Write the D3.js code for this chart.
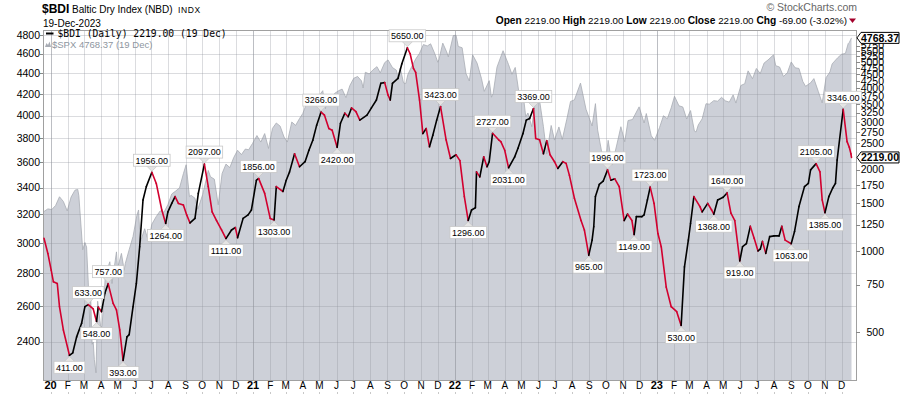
<!DOCTYPE html>
<html><head><meta charset="utf-8">
<script src="https://cdn.jsdelivr.net/npm/d3@7"></script>
<style>
html,body{margin:0;padding:0;background:#fff;}
svg{display:block;font-family:Arial,"Liberation Sans",sans-serif;}
</style></head><body>
<svg id="chart" width="900" height="396"></svg>
<script>
// ---------- DATA ----------
const bdi = [
["2019-12-20",1114],["2019-12-27",979],["2020-01-02",849],["2020-01-06",769],["2020-01-13",758],["2020-01-17",622],
["2020-01-24",510],["2020-02-04",411],["2020-02-10",420],["2020-02-17",481],["2020-02-26",540],["2020-03-03",622],
["2020-03-09",633],["2020-03-18",610],["2020-03-24",548],["2020-03-27",620],["2020-04-02",596],["2020-04-08",697],
["2020-04-14",757],["2020-04-23",640],["2020-04-29",605],["2020-05-05",510],["2020-05-11",393],["2020-05-18",481],
["2020-05-22",490],["2020-05-29",622],["2020-06-04",758],["2020-06-10",1037],["2020-06-16",1545],["2020-06-22",1731],
["2020-07-02",1956],["2020-07-10",1778],["2020-07-20",1418],["2020-07-27",1264],["2020-07-31",1395],["2020-08-07",1500],
["2020-08-13",1590],["2020-08-19",1500],["2020-08-28",1480],["2020-09-03",1360],["2020-09-09",1270],["2020-09-18",1320],
["2020-09-24",1634],["2020-10-05",2097],["2020-10-12",1731],["2020-10-19",1395],["2020-10-27",1296],["2020-11-05",1196],
["2020-11-13",1111],["2020-11-23",1196],["2020-11-30",1221],["2020-12-04",1120],["2020-12-14",1320],["2020-12-23",1360],
["2020-12-29",1418],["2021-01-07",1827],["2021-01-11",1856],["2021-01-22",1634],["2021-02-01",1320],["2021-02-08",1303],
["2021-02-12",1731],["2021-02-24",1660],["2021-03-02",1827],["2021-03-08",1962],["2021-03-17",2290],["2021-03-26",2050],
["2021-04-05",2140],["2021-04-12",2360],["2021-04-19",2570],["2021-04-26",2922],["2021-05-04",3266],["2021-05-10",3185],
["2021-05-18",2840],["2021-05-24",2800],["2021-06-02",2420],["2021-06-08",2970],["2021-06-16",3236],["2021-06-22",3140],
["2021-06-28",3384],["2021-07-06",3277],["2021-07-13",3050],["2021-07-26",3185],["2021-08-03",3384],["2021-08-12",3620],
["2021-08-20",4175],["2021-08-27",4200],["2021-09-02",3780],["2021-09-06",3620],["2021-09-10",4175],["2021-09-20",4350],
["2021-09-27",4930],["2021-10-07",5650],["2021-10-12",5370],["2021-10-18",4740],["2021-10-22",4580],["2021-10-29",3620],
["2021-11-04",2720],["2021-11-10",2840],["2021-11-16",2430],["2021-11-22",2680],["2021-11-29",3050],["2021-12-06",3423],
["2021-12-16",2580],["2021-12-24",2200],["2022-01-03",2270],["2022-01-10",2160],["2022-01-18",1590],["2022-01-25",1296],
["2022-01-31",1418],["2022-02-07",1445],["2022-02-09",1962],["2022-02-15",1880],["2022-02-22",2230],["2022-02-28",2050],
["2022-03-04",2140],["2022-03-10",2727],["2022-03-21",2580],["2022-03-25",2540],["2022-04-01",2360],["2022-04-08",2031],
["2022-04-19",2230],["2022-04-25",2400],["2022-05-04",2720],["2022-05-10",3050],["2022-05-16",3090],["2022-05-23",3369],
["2022-05-27",2610],["2022-06-03",2580],["2022-06-10",2290],["2022-06-16",2560],["2022-06-22",2270],["2022-06-30",2140],
["2022-07-06",2020],["2022-07-15",2140],["2022-07-21",2110],["2022-07-27",1905],["2022-08-05",1567],["2022-08-17",1296],
["2022-08-23",1196],["2022-08-31",965],["2022-09-06",1097],["2022-09-09",1230],["2022-09-12",1590],["2022-09-19",1763],
["2022-09-26",1812],["2022-10-04",1996],["2022-10-10",1827],["2022-10-17",1850],["2022-10-25",1731],["2022-11-03",1296],
["2022-11-09",1370],["2022-11-17",1296],["2022-11-21",1149],["2022-11-25",1340],["2022-12-05",1340],["2022-12-09",1360],
["2022-12-15",1545],["2022-12-20",1723],["2022-12-27",1500],["2023-01-03",1160],["2023-01-09",1037],["2023-01-18",735],
["2023-01-27",622],["2023-02-06",596],["2023-02-14",530],["2023-02-20",873],["2023-02-27",1097],["2023-03-03",1264],
["2023-03-09",1590],["2023-03-20",1460],["2023-03-24",1395],["2023-04-03",1500],["2023-04-10",1418],["2023-04-14",1368],
["2023-04-21",1545],["2023-05-01",1580],["2023-05-08",1640],["2023-05-15",1380],["2023-05-22",1296],["2023-05-31",919],
["2023-06-05",1037],["2023-06-12",1065],["2023-06-19",1234],["2023-06-26",1114],["2023-07-03",1000],["2023-07-07",1015],
["2023-07-11",1085],["2023-07-17",980],["2023-07-24",1130],["2023-08-01",1137],["2023-08-10",1137],["2023-08-15",1234],
["2023-08-21",1097],["2023-09-01",1063],["2023-09-07",1180],["2023-09-15",1460],["2023-09-25",1731],["2023-10-02",1778],
["2023-10-06",1996],["2023-10-16",2105],["2023-10-23",1962],["2023-10-27",1545],["2023-11-01",1385],["2023-11-08",1590],
["2023-11-15",1710],["2023-11-20",1778],["2023-11-23",2170],["2023-12-04",3346],["2023-12-11",2540],["2023-12-15",2420],
["2023-12-18",2288],["2023-12-19",2219]
];

const spx = [
["2019-12-20",3221],["2019-12-27",3240],["2020-01-03",3235],["2020-01-10",3265],["2020-01-17",3330],["2020-01-24",3295],
["2020-01-31",3225],["2020-02-07",3328],["2020-02-14",3380],["2020-02-19",3386],["2020-02-21",3338],["2020-02-28",2954],
["2020-03-03",3003],["2020-03-06",2972],["2020-03-09",2746],["2020-03-12",2480],["2020-03-13",2711],["2020-03-16",2386],
["2020-03-18",2398],["2020-03-20",2305],["2020-03-23",2237],["2020-03-26",2630],["2020-04-01",2470],["2020-04-03",2489],
["2020-04-09",2790],["2020-04-17",2875],["2020-04-21",2737],["2020-04-29",2940],["2020-05-01",2831],["2020-05-08",2930],
["2020-05-13",2820],["2020-05-15",2864],["2020-05-22",2955],["2020-05-29",3044],["2020-06-05",3194],["2020-06-08",3232],
["2020-06-11",3002],["2020-06-19",3098],["2020-06-26",3009],["2020-07-02",3130],["2020-07-10",3185],["2020-07-17",3225],
["2020-07-24",3216],["2020-07-31",3271],["2020-08-07",3351],["2020-08-14",3373],["2020-08-21",3397],["2020-08-28",3508],
["2020-09-02",3580],["2020-09-08",3331],["2020-09-11",3341],["2020-09-18",3319],["2020-09-23",3237],["2020-10-02",3348],
["2020-10-12",3534],["2020-10-16",3484],["2020-10-23",3465],["2020-10-30",3270],["2020-11-06",3509],["2020-11-13",3585],
["2020-11-20",3557],["2020-11-27",3638],["2020-12-04",3699],["2020-12-11",3663],["2020-12-18",3709],["2020-12-24",3703],
["2020-12-31",3756],["2021-01-08",3824],["2021-01-15",3768],["2021-01-22",3841],["2021-01-29",3714],["2021-02-05",3886],
["2021-02-12",3934],["2021-02-19",3906],["2021-02-26",3811],["2021-03-04",3768],["2021-03-12",3943],["2021-03-19",3913],
["2021-03-26",3974],["2021-04-01",4020],["2021-04-09",4128],["2021-04-16",4185],["2021-04-23",4180],["2021-04-30",4181],
["2021-05-07",4232],["2021-05-12",4063],["2021-05-14",4173],["2021-05-21",4156],["2021-05-28",4204],["2021-06-04",4230],
["2021-06-11",4247],["2021-06-18",4166],["2021-06-25",4281],["2021-07-02",4352],["2021-07-09",4370],["2021-07-16",4327],
["2021-07-19",4258],["2021-07-23",4412],["2021-07-30",4395],["2021-08-06",4437],["2021-08-13",4468],["2021-08-19",4406],
["2021-08-27",4509],["2021-09-02",4537],["2021-09-10",4459],["2021-09-17",4433],["2021-09-20",4358],["2021-09-24",4455],
["2021-09-30",4308],["2021-10-04",4300],["2021-10-08",4391],["2021-10-15",4471],["2021-10-22",4545],["2021-10-29",4605],
["2021-11-05",4697],["2021-11-12",4682],["2021-11-18",4705],["2021-11-26",4595],["2021-12-01",4513],["2021-12-03",4538],
["2021-12-10",4712],["2021-12-17",4620],["2021-12-20",4568],["2021-12-29",4793],["2022-01-03",4797],["2022-01-07",4677],
["2022-01-14",4663],["2022-01-21",4398],["2022-01-27",4326],["2022-02-02",4589],["2022-02-10",4504],["2022-02-18",4349],
["2022-02-23",4225],["2022-03-04",4329],["2022-03-08",4170],["2022-03-11",4204],["2022-03-18",4463],["2022-03-29",4632],
["2022-04-08",4488],["2022-04-14",4392],["2022-04-20",4460],["2022-04-29",4132],["2022-05-06",4123],["2022-05-09",3991],
["2022-05-13",4024],["2022-05-20",3901],["2022-05-27",4158],["2022-06-02",4176],["2022-06-10",3901],["2022-06-16",3667],
["2022-06-24",3912],["2022-06-30",3785],["2022-07-08",3899],["2022-07-14",3790],["2022-07-22",3962],["2022-07-29",4130],
["2022-08-05",4145],["2022-08-16",4305],["2022-08-26",4058],["2022-09-06",3908],["2022-09-12",4110],["2022-09-16",3873],
["2022-09-23",3693],["2022-09-30",3586],["2022-10-05",3783],["2022-10-12",3577],["2022-10-21",3752],["2022-10-28",3901],
["2022-11-04",3771],["2022-11-10",3956],["2022-11-18",3965],["2022-11-30",4080],["2022-12-09",3934],["2022-12-13",4019],
["2022-12-22",3822],["2022-12-28",3783],["2023-01-06",3895],["2023-01-13",3999],["2023-01-20",3972],["2023-01-27",4071],
["2023-02-02",4179],["2023-02-10",4090],["2023-02-17",4079],["2023-02-24",3970],["2023-03-03",4046],["2023-03-10",3862],
["2023-03-13",3855],["2023-03-17",3917],["2023-03-24",3971],["2023-03-31",4109],["2023-04-06",4105],["2023-04-14",4138],
["2023-04-21",4133],["2023-04-28",4169],["2023-05-05",4136],["2023-05-12",4124],["2023-05-19",4192],["2023-05-24",4115],
["2023-06-02",4282],["2023-06-09",4299],["2023-06-15",4426],["2023-06-23",4348],["2023-06-30",4450],["2023-07-07",4399],
["2023-07-14",4505],["2023-07-21",4536],["2023-07-31",4589],["2023-08-04",4478],["2023-08-11",4464],["2023-08-18",4370],
["2023-08-25",4406],["2023-09-01",4516],["2023-09-08",4457],["2023-09-15",4450],["2023-09-22",4320],["2023-09-27",4274],
["2023-10-06",4308],["2023-10-12",4349],["2023-10-20",4224],["2023-10-27",4117],["2023-11-03",4358],["2023-11-10",4415],
["2023-11-14",4496],["2023-11-24",4559],["2023-12-01",4595],["2023-12-08",4604],["2023-12-13",4707],["2023-12-15",4719],
["2023-12-19",4768.37]
];

const labelDates = ["2020-02-04","2020-03-09","2020-03-24","2020-04-14","2020-05-11","2020-07-02","2020-07-27","2020-10-05",
"2020-11-13","2021-01-11","2021-02-08","2021-05-04","2021-06-02","2021-10-07","2021-12-06","2022-01-25","2022-03-10",
"2022-04-08","2022-05-23","2022-08-31","2022-10-04","2022-11-21","2022-12-20","2023-02-14","2023-04-14","2023-05-08",
"2023-05-31","2023-09-01","2023-10-16","2023-11-01","2023-12-04"];

const leftTicks = [2400,2600,2800,3000,3200,3400,3600,3800,4000,4200,4400,4600,4800];
const rightTicks = [500,750,1000,1250,1500,1750,2000,2500,2750,3000,3250,3500,3750,4000,4250,4500,4750,5000,5250,5500,5750];
const monthLetters = ["J","F","M","A","M","J","J","A","S","O","N","D"];
const headerItems = [["Open","2219.00"],["High","2219.00"],["Low","2219.00"],["Close","2219.00"],["Chg","-69.00 (-3.02%)"]];

// ---------- DRAW ----------
const parse = d3.timeParse("%Y-%m-%d");
const B = bdi.map(d => ({date: parse(d[0]), v: d[1]}));
const S = spx.map(d => ({date: parse(d[0]), v: d[1]}));
const L = 43, R = 856, T = 30, BOT = 380;
const svg = d3.select("#chart");
const x = d3.scaleTime().domain([parse("2019-12-20"), parse("2023-12-19")]).range([44, 851.5]);
const yL = d3.scaleLog().domain([2201, 4854]).range([BOT, T]);
const yR = d3.scaleLog().domain([333, 6575]).range([BOT, T]);

svg.append("rect").attr("width", 900).attr("height", 396).attr("fill", "#fff");

// SPX area
svg.append("path").datum(S)
  .attr("d", d3.area().x(d => x(d.date)).y0(BOT).y1(d => yL(d.v)))
  .attr("fill", "#cdd0d8");
svg.append("path").datum(S)
  .attr("d", d3.line().x(d => x(d.date)).y(d => yL(d.v)))
  .attr("fill", "none").attr("stroke", "#a8acb4").attr("stroke-width", 0.8);

// gridlines
const months = d3.timeMonth.range(parse("2020-01-01"), parse("2023-12-20"));
const grid = svg.append("g");
grid.selectAll("line.v").data(months).join("line")
  .attr("x1", d => Math.round(x(d)) + 0.5).attr("x2", d => Math.round(x(d)) + 0.5)
  .attr("y1", T).attr("y2", BOT)
  .attr("stroke", "#8f939b").attr("stroke-opacity", d => d.getMonth() === 0 ? 0.6 : 0.32);
grid.selectAll("line.h").data(leftTicks).join("line")
  .attr("x1", L).attr("x2", R)
  .attr("y1", d => Math.round(yL(d)) + 0.5).attr("y2", d => Math.round(yL(d)) + 0.5)
  .attr("stroke", "#8f939b").attr("stroke-opacity", 0.32);

// frame
svg.append("rect").attr("x", L + 0.5).attr("y", T + 0.5).attr("width", R - L).attr("height", BOT - T)
  .attr("fill", "none").attr("stroke", "#a0a0a0");

// left axis
const la = svg.append("g");
la.selectAll("line").data(leftTicks).join("line")
  .attr("x1", 40).attr("x2", L).attr("y1", d => Math.round(yL(d)) + 0.5).attr("y2", d => Math.round(yL(d)) + 0.5)
  .attr("stroke", "#888");
la.selectAll("text").data(leftTicks).join("text")
  .attr("x", 40).attr("y", d => yL(d)).attr("dy", "0.35em").attr("text-anchor", "end")
  .attr("font-size", 10.5).attr("fill", "#000").text(d => d);

// right axis
const ra = svg.append("g");
ra.selectAll("line").data(rightTicks).join("line")
  .attr("x1", R).attr("x2", R + 4).attr("y1", d => Math.round(yR(d)) + 0.5).attr("y2", d => Math.round(yR(d)) + 0.5)
  .attr("stroke", "#888");
ra.selectAll("text").data(rightTicks).join("text")
  .attr("x", 884).attr("y", d => yR(d)).attr("dy", "0.35em").attr("text-anchor", "end")
  .attr("font-size", 10.5).attr("fill", "#000").text(d => d);

// x axis labels
const xa = svg.append("g");
xa.selectAll("text").data(months).join("text")
  .attr("x", d => x(d)).attr("y", 389).attr("text-anchor", "middle")
  .attr("font-size", d => d.getMonth() === 0 ? 11 : 10)
  .attr("font-weight", d => d.getMonth() === 0 ? "bold" : "normal")
  .text(d => d.getMonth() === 0 ? d3.timeFormat("%y")(d) : monthLetters[d.getMonth()]);
xa.selectAll("line").data(months).join("line")
  .attr("x1", d => Math.round(x(d)) + 0.5).attr("x2", d => Math.round(x(d)) + 0.5)
  .attr("y1", 392).attr("y2", 394).attr("stroke", "#c8c8c8");

// BDI line, coloured by direction
const segs = B.slice(1).map((d, i) => ({a: B[i], b: d}));
svg.append("g").selectAll("line").data(segs).join("line")
  .attr("x1", d => x(d.a.date)).attr("y1", d => yR(d.a.v))
  .attr("x2", d => x(d.b.date)).attr("y2", d => yR(d.b.v))
  .attr("stroke", d => d.b.v < d.a.v ? "#d2002f" : "#000")
  .attr("stroke-width", 1.6).attr("stroke-linecap", "round");

// annotations
const ann = svg.append("g");
labelDates.forEach(ds => {
  const i = bdi.findIndex(d => d[0] === ds);
  const p = B[i];
  const prev = B[Math.max(0, i - 1)];
  const high = p.v >= prev.v;
  const px = x(p.date), py = yR(p.v);
  const g = ann.append("g");
  const ey = high ? py - 6 : py + 6;
  g.append("path").attr("d", `M${px},${ey-5}L${px+5},${ey}L${px},${ey+5}L${px-5},${ey}Z`)
    .attr("fill", "#e4e4e4").attr("stroke", "#bdbdbd").attr("stroke-width", 0.6);
  const t = g.append("text").attr("x", px).attr("text-anchor", "middle").attr("font-size", 9)
    .attr("fill", "#000").text(p.v.toFixed(2));
  const w = t.node().getComputedTextLength() + 4;
  const by = high ? py - 6 - 12 : py + 6;
  g.insert("rect", "text").attr("x", px - w / 2).attr("y", by).attr("width", w).attr("height", 12)
    .attr("fill", "#fff").attr("stroke", "#c8c8c8").attr("stroke-width", 0.8);
  t.attr("y", by + 9.3);
});

// header
svg.append("text").attr("x", 42).attr("y", 12.5).attr("font-size", 12).attr("font-weight", "bold").text("$BDI");
svg.append("text").attr("x", 72).attr("y", 12.5).attr("font-size", 10).text("Baltic Dry Index (NBD)");
svg.append("text").attr("x", 178).attr("y", 12.5).attr("font-size", 8.5).attr("letter-spacing", 0.6).text("INDX");
svg.append("text").attr("x", 43).attr("y", 26.5).attr("font-size", 10).text("19-Dec-2023");
svg.append("text").attr("x", 857).attr("y", 11).attr("text-anchor", "end").attr("font-size", 10.5)
  .attr("fill", "#666").text("\u00a9 StockCharts.com");
const ht = svg.append("text").attr("x", 847).attr("y", 24).attr("text-anchor", "end").attr("font-size", 9.8);
headerItems.forEach((h, i) => {
  ht.append("tspan").attr("font-weight", "bold").attr("font-size", 10.2).text((i ? "  " : "") + h[0]);
  ht.append("tspan").text(" " + h[1]);
});
svg.append("path").attr("d", "M849,18.5L856,18.5L852.5,23Z").attr("fill", "#a3002b");

// legend
svg.append("line").attr("x1", 46).attr("x2", 53.5).attr("y1", 33.5).attr("y2", 33.5).attr("stroke", "#000").attr("stroke-width", 2);
svg.append("text").attr("x", 57.5).attr("y", 37.2).attr("font-family", "'DejaVu Sans Mono', monospace")
  .attr("font-size", 9.7).attr("fill", "#000").text("$BDI (Daily) 2219.00 (19 Dec)");
svg.append("path").attr("d", "M45,47L46.5,43L48,45L49.5,41.5L51,47Z").attr("fill", "#a8acb4");
svg.append("text").attr("x", 52).attr("y", 47.5).attr("font-size", 9.5).attr("fill", "#8e96a0").text("$SPX 4768.37 (19 Dec)");

// last value boxes
function valBox(yv, txt) {
  const g = svg.append("g");
  g.append("path").attr("d", `M857,${yv}L861,${yv-5.5}L899,${yv-5.5}L899,${yv+5.5}L861,${yv+5.5}Z`)
    .attr("fill", "#fff").attr("stroke", "#000").attr("stroke-width", 1);
  g.append("text").attr("x", 880).attr("y", yv).attr("dy", "0.36em").attr("text-anchor", "middle")
    .attr("font-size", 10.5).attr("font-weight", "bold").text(txt);
}
valBox(yL(S[S.length - 1].v), S[S.length - 1].v.toFixed(2));
valBox(yR(B[B.length - 1].v), B[B.length - 1].v.toFixed(2));
</script>
</body></html>
